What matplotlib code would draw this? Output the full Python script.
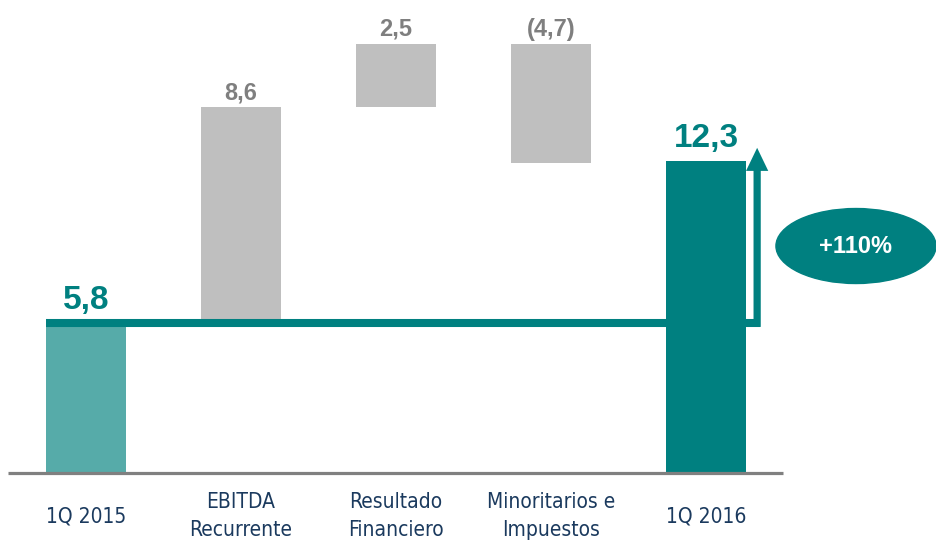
import matplotlib
matplotlib.use("Agg")
from matplotlib import pyplot as plt
from matplotlib.patches import Ellipse, FancyArrowPatch

# datos del puente 1Q 2015 -> 1Q 2016
categorias = ["1Q 2015", "EBITDA\nRecurrente", "Resultado\nFinanciero",
              "Minoritarios e\nImpuestos", "1Q 2016"]
variaciones = [8.6, 2.5, -4.7]
inicio = 5.8
final = 12.3
etiquetas = ["5,8", "8,6", "2,5", "(4,7)", "12,3"]
crecimiento = "+110%"

TEAL = "#008080"
TEAL_CLARO = "#56ABA9"
GRIS = "#BFBFBF"
GRIS_TXT = "#7F7F7F"
AZUL = "#1B3A5E"

fig = plt.figure(figsize=(9.36, 5.45), dpi=100)
ax = fig.add_axes([0, 0, 1, 1])
ax.axis("off")
ax.set_xlim(-0.555, 5.484)
ax.set_ylim(-2.835, 18.62)

x = list(range(len(categorias)))
ancho = 0.516

# barras de inicio y fin
ax.bar(x[0], inicio, width=ancho, color=TEAL_CLARO, zorder=2)
ax.bar(x[-1], final, width=ancho, color=TEAL, zorder=2)

# barras intermedias flotantes
nivel = inicio
tops = []
for i, v in enumerate(variaciones):
    base = nivel if v > 0 else nivel + v
    ax.bar(x[i + 1], abs(v), bottom=base, width=ancho, color=GRIS, zorder=2)
    tops.append(max(nivel, nivel + v))
    nivel += v

# etiquetas de valores
ax.annotate(etiquetas[0], (x[0], inicio), xytext=(0, 7), textcoords="offset points",
            ha="center", va="bottom", fontsize=24, fontweight="bold", color=TEAL,
            family="Liberation Sans")
for i, t in enumerate(tops):
    ax.annotate(etiquetas[i + 1], (x[i + 1], t), xytext=(0, 2), textcoords="offset points",
                ha="center", va="bottom", fontsize=17, fontweight="bold", color=GRIS_TXT,
                family="Liberation Sans")
ax.annotate(etiquetas[-1], (x[-1], final), xytext=(0, 5), textcoords="offset points",
            ha="center", va="bottom", fontsize=24, fontweight="bold", color=TEAL,
            family="Liberation Sans")

# linea de referencia y flecha
xa = x[-1] + 0.33
ax.plot([x[0] - ancho / 2, xa + 0.02], [inicio + 0.12, inicio + 0.12], color=TEAL, lw=5.8,
        solid_capstyle="butt", zorder=3)
flecha = FancyArrowPatch((xa, inicio - 0.05), (xa, final + 0.5),
                         arrowstyle="simple,head_length=0.83,head_width=0.8,tail_width=0.26",
                         mutation_scale=20, color=TEAL, lw=0, shrinkA=0, shrinkB=0, zorder=3)
ax.add_patch(flecha)

# linea base
ax.plot([x[0] - 0.503, x[-1] + 0.497], [0, 0], color="#808080", lw=2.3, zorder=4,
        solid_capstyle="butt")

# elipse de crecimiento
ax.add_patch(Ellipse((0.9145, 0.5486), 0.171, 0.1376, transform=ax.transAxes,
                     color=TEAL, zorder=3))
ax.text(0.9145, 0.5486, crecimiento, transform=ax.transAxes, ha="center", va="center",
        fontsize=17, fontweight="bold", color="white", family="Liberation Sans", zorder=4)

# etiquetas de categorias
for xi, c in zip(x, categorias):
    ax.annotate(c, (xi, 0), xytext=(0, -31), textcoords="offset points",
                ha="center", va="center", fontsize=15, color=AZUL, linespacing=1.45,
                family="DejaVu Sans", fontstretch="condensed")

plt.savefig("out.png", dpi=100)
